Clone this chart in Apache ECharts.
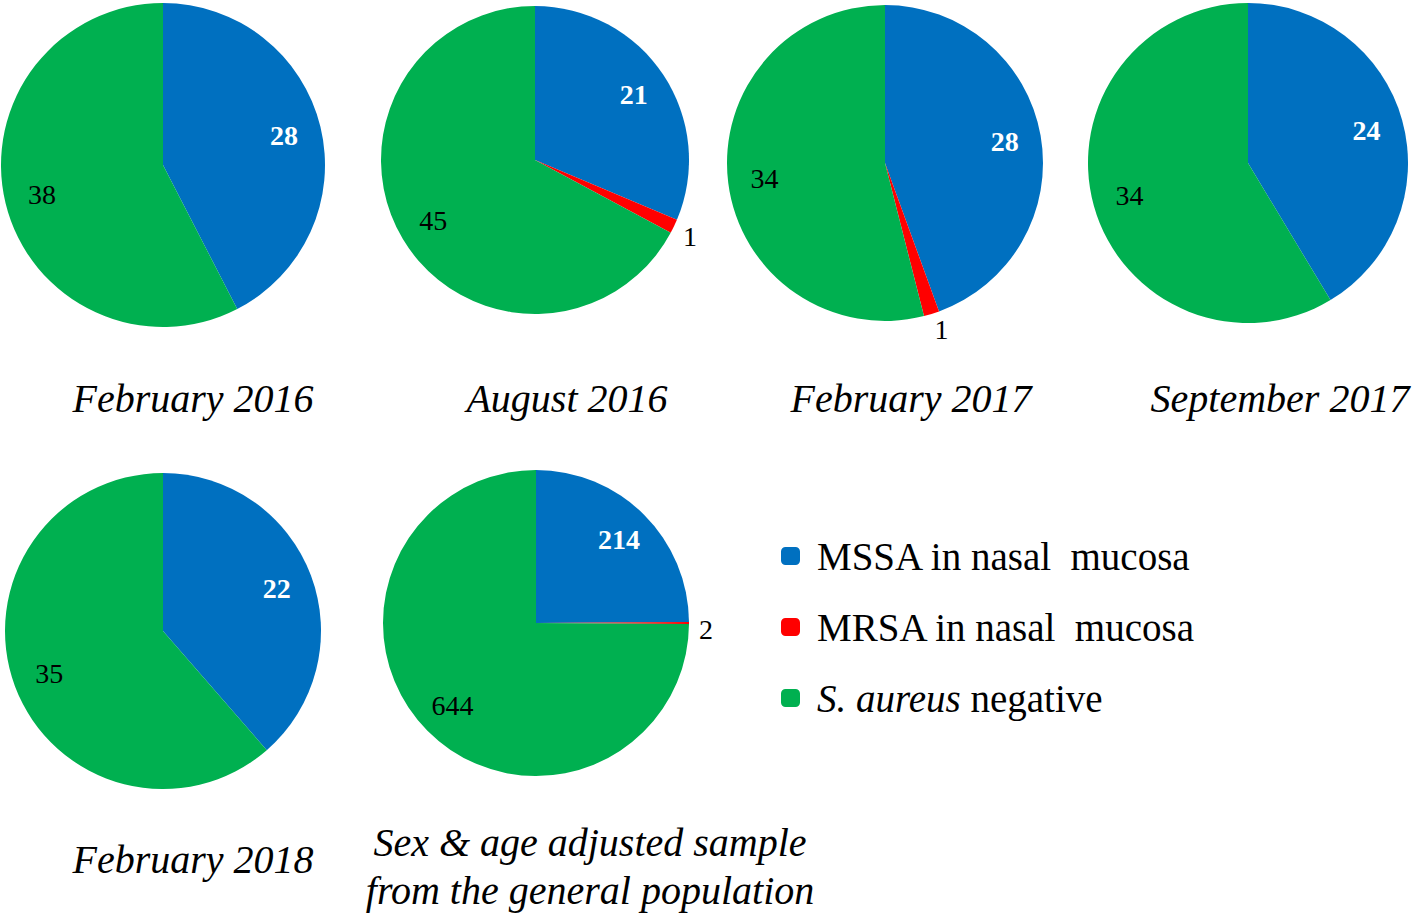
<!DOCTYPE html>
<head>
    <meta charset="utf-8">
    <title>S. aureus carriage</title>
    <script src="https://cdn.jsdelivr.net/npm/echarts@6/dist/echarts.min.js"></script>
    <style>
      html,body{ margin:0; padding:0; background:#fff; }
      #main{ width:1418px; height:913px; }
    </style>
</head>
<body>
    <div id="main"></div>
    <script>
    // data
    var periods = ['February 2016', 'August 2016', 'February 2017', 'September 2017', 'February 2018',
                   'Sex & age adjusted sample\nfrom the general population'];
    var categories = ['MSSA in nasal mucosa', 'MRSA in nasal mucosa', 'S. aureus negative'];
    var mssa = [28, 21, 28, 24, 22, 214];
    var mrsa = [0, 1, 1, 0, 0, 2];
    var negative = [38, 45, 34, 34, 35, 644];

    var colors = ['#0070C0', '#FF0000', '#00B050'];
    var font = "'Liberation Serif', 'Times New Roman', serif";

    // where each pie sits (px): center and radius, and its caption center
    var layout = [
        { c: [163, 165], r: 162, t: [193, 398] },
        { c: [535, 160], r: 154, t: [567, 398] },
        { c: [885, 163], r: 158, t: [911, 398] },
        { c: [1248, 163], r: 160, t: [1280, 398] },
        { c: [163, 631], r: 158, t: [193, 859] },
        { c: [536, 623], r: 153, t: [590, 866] }
    ];

    // label look per category: blue = white bold inside, red = outside, green = black inside
    var labelStyles = [
        { position: 'inside', color: '#fff', fontWeight: 'bold' },
        { position: 'outside', color: '#000', offset: [0, 6] },
        { position: 'inside', color: '#000' }
    ];

    var series = [];
    var graphics = [];
    periods.forEach(function (p, i) {
        var vals = [mssa[i], mrsa[i], negative[i]];
        var L = layout[i];
        // visible pie
        series.push({
            type: 'pie', center: L.c, radius: [0, L.r], startAngle: 90, clockwise: true,
            silent: true, animation: false,
            label: { show: false }, labelLine: { show: false },
            data: categories.map(function (n, k) {
                return { name: n, value: vals[k], itemStyle: { color: colors[k] } };
            })
        });
        // transparent ring, only to put the numbers at ~3/4 radius
        series.push({
            type: 'pie', center: L.c, radius: [L.r * 0.5, L.r], startAngle: 90, clockwise: true,
            silent: true, animation: false, avoidLabelOverlap: false,
            itemStyle: { color: 'rgba(0,0,0,0)' },
            labelLine: { show: false, length: 10, length2: 0 },
            label: { fontFamily: font, fontSize: 28, distanceToLabelLine: 0 },
            data: categories.map(function (n, k) {
                return {
                    name: n, value: vals[k],
                    itemStyle: { color: 'rgba(0,0,0,0)' },
                    label: Object.assign({
                        show: vals[k] > 0,
                        formatter: '{c}'
                    }, labelStyles[k])
                };
            })
        });
        graphics.push({
            type: 'text', x: L.t[0], y: L.t[1],
            style: {
                text: p, fill: '#000', align: 'center', verticalAlign: 'middle',
                fontFamily: font, fontStyle: 'italic', fontSize: 40, lineHeight: 48
            }
        });
    });

    var option = {
        backgroundColor: '#fff',
        animation: false,
        legend: {
            orient: 'vertical', left: 776, top: 530, itemGap: 29,
            icon: 'roundRect', itemWidth: 19, itemHeight: 18,
            selectedMode: false,
            data: categories.map(function (n, k) {
                return { name: n, itemStyle: { color: colors[k] } };
            }),
            formatter: function (name) {
                if (name === 'S. aureus negative') return '{i|S. aureus} negative';
                return name.replace('nasal mucosa', 'nasal  mucosa');
            },
            textStyle: {
                fontFamily: font, fontSize: 39, color: '#000', lineHeight: 42,
                padding: [0, 0, 0, 12],
                rich: { i: { fontFamily: font, fontSize: 39, fontStyle: 'italic', color: '#000' } }
            }
        },
        graphic: graphics,
        series: series
    };

    var myChart = echarts.init(document.getElementById('main'), null, { renderer: 'svg' });
    myChart.setOption(option);
    </script>
</body>
